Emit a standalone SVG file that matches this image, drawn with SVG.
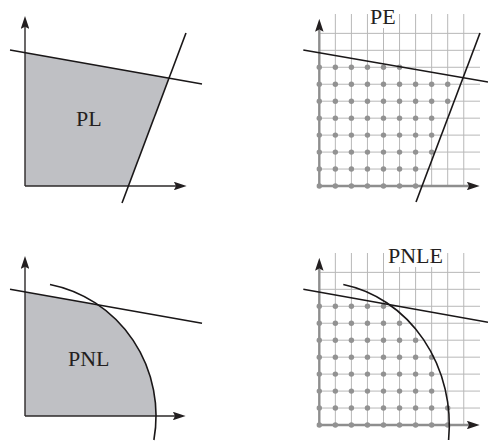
<svg xmlns="http://www.w3.org/2000/svg" xmlns:xlink="http://www.w3.org/1999/xlink" width="488" height="441" viewBox="0 0 488 441">
<style>
.bg{fill:#ffffff}
.shade{fill:#bfc0c4;stroke:none}
.axd{stroke:#2b2829;stroke-width:1.4;fill:none}
.axg{stroke:#8e8e8e;stroke-width:2.4;fill:none}
.ln{stroke:#1a1718;stroke-width:1.6;fill:none}
.grid{stroke:#b8b8b8;stroke-width:1;fill:none}
.dot{fill:#929292}
.lbl{font-family:"Liberation Serif","Times New Roman",serif;font-size:22px;fill:#231f20}
</style>
<defs>
<marker id="ar" viewBox="0 0 12 8" refX="2" refY="4" markerWidth="13" markerHeight="8.5" markerUnits="userSpaceOnUse" orient="auto">
<path d="M0,0 L12,4 L0,8 L2,4 z" fill="#231f20"/>
</marker>
<g id="grid" class="grid">
<path d="M335.35,14V186M351.4,14V186M367.45,14V186M383.5,14V186M399.55,14V186M415.6,14V186M431.65,14V186M447.7,14V186M463.75,14V186"/>
<path d="M319.3,169.04H480M319.3,152.08H480M319.3,135.12H480M319.3,118.16H480M319.3,101.2H480M319.3,84.24H480M319.3,67.28H480M319.3,50.32H480M319.3,33.36H480"/>
</g>
<g id="row5"><circle class="dot" cx="319.3" cy="0" r="2.7"/><circle class="dot" cx="335.35" cy="0" r="2.7"/><circle class="dot" cx="351.4" cy="0" r="2.7"/><circle class="dot" cx="367.45" cy="0" r="2.7"/><circle class="dot" cx="383.5" cy="0" r="2.7"/></g>
<g id="row6"><use xlink:href="#row5"/><circle class="dot" cx="399.55" cy="0" r="2.7"/></g>
<g id="row7"><use xlink:href="#row6"/><circle class="dot" cx="415.6" cy="0" r="2.7"/></g>
<g id="row8"><use xlink:href="#row7"/><circle class="dot" cx="431.65" cy="0" r="2.7"/></g>
<g id="row9"><use xlink:href="#row8"/><circle class="dot" cx="447.7" cy="0" r="2.7"/></g>
</defs>
<rect class="bg" x="0" y="0" width="488" height="441"/>

<g id="panel-PL">
<path class="shade" d="M25,52.7 L169,78.1 L128.4,186 L25,186 Z"/>
<path class="axd" d="M25,186 V26.7" marker-end="url(#ar)"/>
<path class="axd" d="M25,186 H176" marker-end="url(#ar)"/>
<path class="ln" d="M10,50 L202,84"/>
<path class="ln" d="M186,33 L122,203"/>
<text class="lbl" x="76" y="126">PL</text>
</g>

<g id="panel-PE">
<use xlink:href="#grid"/>
<path class="axg" d="M319.3,186 V29.5" marker-end="url(#ar)"/>
<path class="axg" d="M319.3,186 H469" marker-end="url(#ar)"/>
<use xlink:href="#row7" y="186"/>
<use xlink:href="#row7" y="169.04"/>
<use xlink:href="#row8" y="152.08"/>
<use xlink:href="#row8" y="135.12"/>
<use xlink:href="#row8" y="118.16"/>
<use xlink:href="#row9" y="101.2"/>
<use xlink:href="#row9" y="84.24"/>
<use xlink:href="#row6" y="67.28"/>
<path class="ln" d="M303.3,50 L488,82"/>
<path class="ln" d="M480,33 L416,202"/>
<rect class="bg" x="368" y="6" width="31" height="22"/>
<text class="lbl" x="370" y="24">PE</text>
</g>

<g id="panel-PNL">
<path class="shade" d="M25,292 L98.2,304.9 A131,134 0 0 1 156,416 L25,416 Z"/>
<path class="axd" d="M25,416 V266.7" marker-end="url(#ar)"/>
<path class="axd" d="M25,416 H175" marker-end="url(#ar)"/>
<path class="ln" d="M10,289.3 L202,323.3"/>
<path class="ln" d="M50,284.5 A131,134 0 0 1 153.9,440"/>
<text class="lbl" x="68" y="366">PNL</text>
</g>

<g id="panel-PNLE">
<use xlink:href="#grid" y="239"/>
<path class="axg" d="M319.3,425 V268.5" marker-end="url(#ar)"/>
<path class="axg" d="M319.3,425 H469" marker-end="url(#ar)"/>
<use xlink:href="#row9" y="425"/>
<use xlink:href="#row9" y="408.04"/>
<use xlink:href="#row8" y="391.08"/>
<use xlink:href="#row8" y="374.12"/>
<use xlink:href="#row8" y="357.16"/>
<use xlink:href="#row7" y="340.2"/>
<use xlink:href="#row6" y="323.24"/>
<use xlink:href="#row5" y="306.28"/>
<path class="ln" d="M303.3,289.3 L488,322.3"/>
<path class="ln" d="M343.3,284.5 A130,143 0 0 1 448.6,440"/>
<rect class="bg" x="386" y="245" width="59" height="22"/>
<text class="lbl" x="388" y="263">PNLE</text>
</g>
</svg>
